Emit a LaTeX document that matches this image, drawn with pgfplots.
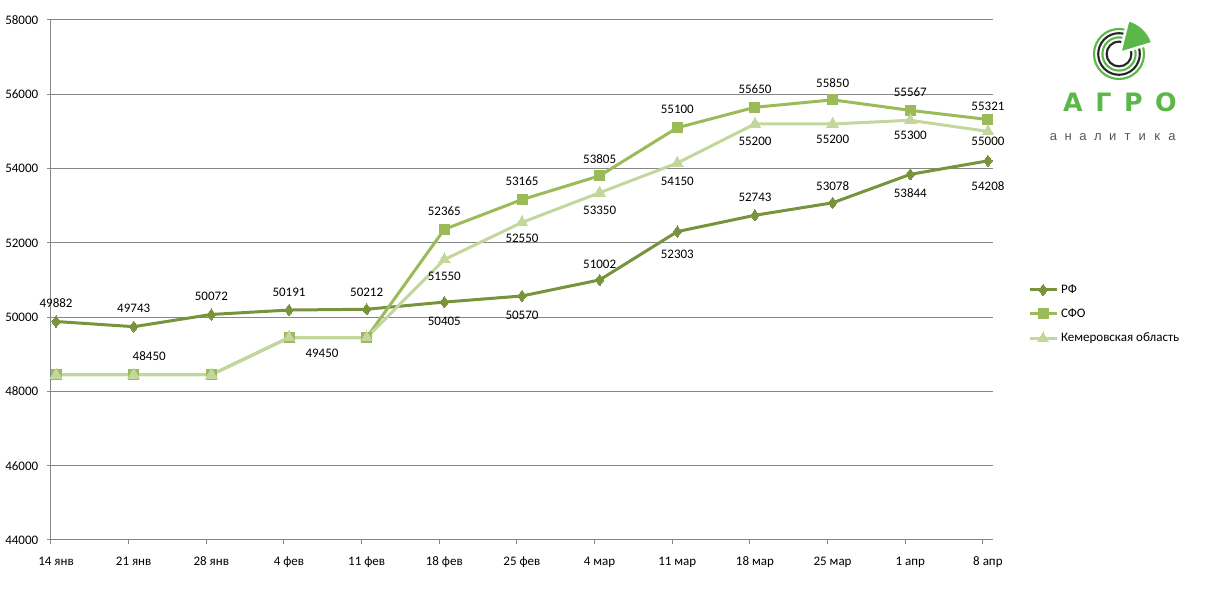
\documentclass[border=0pt]{standalone}
\usepackage{pgfplots}
\pgfplotsset{compat=1.18}
\usepackage{pgfplotstable}
\usepackage{fontspec}
\setmainfont{Carlito}
\newfontfamily\logofont{Liberation Sans}
\newfontfamily\logobold{DejaVu Sans}
\definecolor{rf}{RGB}{119,147,60}
\definecolor{sfo}{RGB}{155,187,89}
\definecolor{kem}{RGB}{195,214,155}
\definecolor{gridgray}{RGB}{134,134,134}
\definecolor{logogreen}{RGB}{91,184,72}
\definecolor{logogray}{RGB}{85,85,85}

\pgfplotstableread{
x y
0 49882
1 49743
2 50072
3 50191
4 50212
5 50405
6 50570
7 51002
8 52303
9 52743
10 53078
11 53844
12 54208
}\rfdata
\pgfplotstableread{
x y
0 48450
1 48450
2 48450
3 49450
4 49450
5 52365
6 53165
7 53805
8 55100
9 55650
10 55850
11 55567
12 55321
}\sfodata
\pgfplotstableread{
x y
0 48450
1 48450
2 48450
3 49450
4 49450
5 51550
6 52550
7 53350
8 54150
9 55200
10 55200
11 55300
12 55000
}\kemdata
% label tables: label offsets dx, up in pixels
\pgfplotstableread{
x y dx up
0 49882 0 18
1 49743 0 18
2 50072 0 18
3 50191 0 17.5
4 50212 0 17
5 50405 0 -19
6 50570 0 -19
7 51002 0 16
8 52303 0 -23
9 52743 0 18
10 53078 0 17
11 53844 0 -19
12 54208 0 -25
}\rflab
\pgfplotstableread{
x y dx up
1 48450 15.5 19
5 52365 0 18
6 53165 0 18
7 53805 0 17
8 55100 0 18
9 55650 0 18
10 55850 0 17
11 55567 0 18
12 55321 0 13
}\sfolab
\pgfplotstableread{
x y dx up
3 49450 33 -16
5 51550 0 -17
6 52550 0 -16
7 53350 0 -18
8 54150 0 -18
9 55200 0 -17
10 55200 0 -15
11 55300 0 -15
12 55000 0 -10
}\kemlab

\pgfplotsset{
  labelplot/.style={draw=none, mark=none, forget plot,
    nodes near coords, point meta=explicit symbolic,
    nodes near coords align=center,
    every node near coord/.append style={anchor=center, inner sep=0pt, text=black,
      font=\fontsize{9.75}{11}\selectfont}},
}

\begin{document}
\begin{tikzpicture}
\path[use as bounding box] (0pt,0pt) rectangle (905.25pt,448.5pt);
\begin{axis}[
  at={(38.25pt,43.5pt)}, anchor=south west,
  scale only axis, width=706.5pt, height=390pt,
  xmin=-0.065, xmax=12.065, ymin=44000, ymax=58000,
  xtick={-0.065,0.935,1.935,2.935,3.935,4.935,5.935,6.935,7.935,8.935,9.935,10.935,11.935},
  xticklabels={14 янв,21 янв,28 янв,4 фев,11 фев,18 фев,25 фев,4 мар,11 мар,18 мар,25 мар,1 апр,8 апр},
  ytick={44000,46000,48000,50000,52000,54000,56000,58000},
  scaled y ticks=false,
  /pgf/number format/assume math mode=true,
  /pgf/number format/1000 sep={},
  yticklabel={\pgfmathprintnumber[fixed,precision=0,1000 sep={}]{\tick}},
  axis lines*=left,
  axis line style={gridgray, line width=0.75pt},
  tick style={gridgray, line width=0.75pt},
  major tick length=3pt,
  tick align=outside,
  ymajorgrids, major grid style={gridgray, line width=0.75pt},
  ticklabel style={font=\fontsize{9.75}{11}\selectfont, inner sep=0pt, text=black},
  xticklabel style={anchor=base, xshift=3.75pt, yshift=-16.5pt},
  yticklabel style={anchor=east, xshift=-6.4pt},
  clip=false,
  legend style={at={(1.0372,0.4923)}, anchor=north west, draw=none, fill=none,
    inner sep=0pt, outer sep=0pt, row sep=9pt, column sep=2.25pt,
    font=\fontsize{9.75}{11}\selectfont,
    nodes={inner sep=0pt, text height=7pt, text depth=2pt}},
  legend cell align=left,
  legend image code/.code={\draw[mark repeat=2,mark phase=2,#1] plot coordinates {(0pt,0pt) (10.125pt,0pt) (20.25pt,0pt)};},
]
\addplot[rf, line width=2.25pt, mark=diamond*, mark size=4.2pt, mark options={solid, line width=0pt}] table[x=x,y=y]{\rfdata};
\addlegendentry{РФ}
\addplot[sfo, line width=2.25pt, mark=square*, mark size=3.75pt, mark options={solid, line width=0pt}] table[x=x,y=y]{\sfodata};
\addlegendentry{СФО}
\addplot[kem, line width=2.25pt, mark=triangle*, mark size=5pt, mark options={solid, line width=0pt}] table[x=x,y=y]{\kemdata};
\addlegendentry{Кемеровская область}
% value labels: offsets given in pixels (1 px = 0.012877 x-units, 26.923 y-units)
\addplot[labelplot] table[x expr=\thisrow{x}+0.012877*\thisrow{dx}, y expr=\thisrow{y}+26.923*\thisrow{up}, meta=y]{\rflab};
\addplot[labelplot] table[x expr=\thisrow{x}+0.012877*\thisrow{dx}, y expr=\thisrow{y}+26.923*\thisrow{up}, meta=y]{\sfolab};
\addplot[labelplot] table[x expr=\thisrow{x}+0.012877*\thisrow{dx}, y expr=\thisrow{y}+26.923*\thisrow{up}, meta=y]{\kemlab};
\end{axis}
\begin{scope}[shift={(0pt,448.5pt)}, x=0.75pt, y=-0.75pt]
  \draw[logogreen, line width=1.6pt] (1119,54) circle[radius=25];
  \draw[black!85, line width=1.6pt] (1119,54) circle[radius=20.8];
  \draw[logogreen, line width=1.6pt] (1119,54) circle[radius=16.6];
  \draw[black!85, line width=1.6pt] (1119,54) circle[radius=12.4];
  \fill[logogreen, draw=white, line width=2pt] (1120,53) -- ++(-17:34) arc[start angle=-17, end angle=-76, radius=34] -- cycle;
  \foreach \c/\px in {А/1073,Г/1103.5,Р/1133.5,О/1166}
    \node[text=logogreen, inner sep=0pt, font=\logobold\fontsize{19}{21}\selectfont\bfseries] at (\px,102) {\c};
  \foreach \c [count=\i from 0] in {а,н,а,л,и,т,и,к,а}
    \node[text=logogray, inner sep=0pt, font=\logofont\fontsize{9.75}{11}\selectfont] at ({1053.5+14.8*\i},137) {\c};
\end{scope}
\end{tikzpicture}
\end{document}
